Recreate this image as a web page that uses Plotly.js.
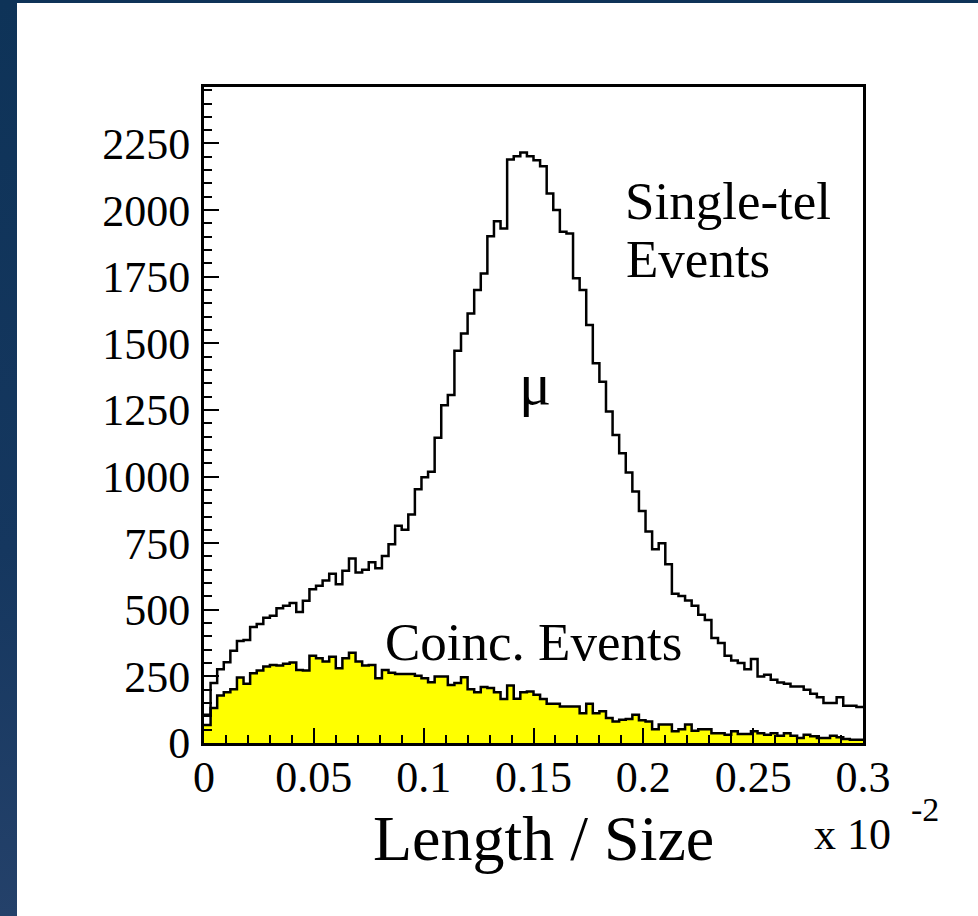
<!DOCTYPE html>
<html>
<head>
<meta charset="utf-8">
<script src="https://cdn.plot.ly/plotly-3.0.1.min.js"></script>
<style>
  html, body { margin: 0; padding: 0; width: 978px; height: 916px; overflow: hidden;
    background: linear-gradient(to bottom, #0e3358 0%, #15375f 60%, #24416a 100%); }
  #plot { position: absolute; left: 17px; top: 3px; width: 961px; height: 913px; background: #fff; }
</style>
</head>
<body>
<div id="plot"></div>
<script>
// Histogram binning (Length/Size in units of 1e-2)
const binLow = 0.0;
const binWidth = 0.003;
const nBins = 100;

// Single-telescope events (white histogram, black outline)
const singleTel = [
  106,225,277,303,346,383,387,435,447,470,
  478,506,515,525,492,534,577,590,610,635,
  596,646,692,640,650,678,656,702,746,815,
  800,858,952,997,1018,1146,1268,1306,1472,1537,
  1612,1700,1762,1902,1958,1931,2190,2202,2216,2202,
  2187,2165,2062,2000,1919,1912,1744,1700,1569,1425,
  1356,1244,1156,1087,1015,944,871,794,727,750,
  671,560,552,535,515,481,462,394,375,327,
  310,300,277,315,250,256,237,227,222,212,
  212,200,185,172,150,150,172,140,140,135
];

// Coincidence events (yellow filled histogram)
const coinc = [
  68,131,178,190,202,246,222,262,272,287,
  293,291,297,302,274,272,327,318,306,324,
  281,318,339,306,291,293,243,274,264,259,
  259,259,252,243,228,250,250,218,225,247,
  202,190,210,206,190,165,216,166,190,193,
  181,165,147,147,137,137,137,112,147,112,
  119,94,81,87,90,106,85,81,52,69,
  69,44,52,69,46,52,52,37,37,31,
  44,34,34,44,37,31,37,27,37,27,
  19,31,25,19,19,27,22,15,12,12
];

const xTickVals = [0, 0.05, 0.1, 0.15, 0.2, 0.25, 0.3];
const xTickText = ["0", "0.05", "0.1", "0.15", "0.2", "0.25", "0.3"];
const yTickVals = [0, 250, 500, 750, 1000, 1250, 1500, 1750, 2000, 2250];
const yTickText = ["0", "250", "500", "750", "1000", "1250", "1500", "1750", "2000", "2250"];

// step-histogram helper: bin edges plus repeated last value for 'hv' lines
function stepXY(vals) {
  const xs = [], ys = [];
  for (let i = 0; i < vals.length; i++) { xs.push(binLow + i * binWidth); ys.push(vals[i]); }
  xs.push(binLow + vals.length * binWidth); ys.push(vals[vals.length - 1]);
  return {xs, ys};
}

const s1 = stepXY(singleTel);
const s2 = stepXY(coinc);

const serif = "Liberation Serif, Times New Roman, serif";

const traces = [
  {x: s2.xs, y: s2.ys, type: 'scatter', mode: 'lines', line: {shape: 'hv', color: '#000', width: 2.5},
   fill: 'tozeroy', fillcolor: '#ffff00', hoverinfo: 'skip', showlegend: false},
  {x: s1.xs, y: s1.ys, type: 'scatter', mode: 'lines', line: {shape: 'hv', color: '#000', width: 2.5},
   hoverinfo: 'skip', showlegend: false}
];

const layout = {
  width: 961, height: 913,
  margin: {l: 187, r: 115, t: 84, b: 173, pad: 0},
  paper_bgcolor: '#ffffff', plot_bgcolor: '#ffffff',
  showlegend: false,
  font: {family: serif, color: '#000'},
  xaxis: {
    range: [0, 0.3], showgrid: false, zeroline: false,
    showline: true, linecolor: '#000', linewidth: 3, mirror: true,
    ticks: 'inside', ticklen: 15, tickwidth: 2, tickcolor: '#000',
    tickvals: xTickVals, ticktext: xTickText,
    tickfont: {family: serif, size: 44, color: '#000'},
    ticklabelstandoff: -7,
    minor: {dtick: 0.01, tick0: 0, ticks: 'inside', ticklen: 8, tickwidth: 2, tickcolor: '#000', showgrid: false}
  },
  yaxis: {
    range: [0, 2462], showgrid: false, zeroline: false,
    showline: true, linecolor: '#000', linewidth: 3, mirror: true,
    ticks: 'inside', ticklen: 15, tickwidth: 2, tickcolor: '#000',
    tickvals: yTickVals, ticktext: yTickText,
    tickfont: {family: serif, size: 44, color: '#000'},
    ticklabelstandoff: 2,
    minor: {dtick: 50, tick0: 0, ticks: 'inside', ticklen: 8, tickwidth: 2, tickcolor: '#000', showgrid: false}
  },
  annotations: [
    {text: 'Single-tel', xref: 'paper', yref: 'paper', x: 0.636, y: 0.826, xanchor: 'left', yanchor: 'middle',
     showarrow: false, font: {family: serif, size: 53, color: '#000'}},
    {text: 'Events', xref: 'paper', yref: 'paper', x: 0.637, y: 0.7376, xanchor: 'left', yanchor: 'middle',
     showarrow: false, font: {family: serif, size: 53, color: '#000'}},
    {text: 'μ', xref: 'paper', yref: 'paper', x: 0.5018, y: 0.5473, xanchor: 'center', yanchor: 'middle',
     showarrow: false, font: {family: serif, size: 60, color: '#000'}},
    {text: 'Coinc. Events', xref: 'paper', yref: 'paper', x: 0.2712, y: 0.1543, xanchor: 'left', yanchor: 'middle',
     showarrow: false, font: {family: serif, size: 53, color: '#000'}},
    {text: 'Length / Size', xref: 'paper', yref: 'paper', x: 0.5155, y: -0.146, xanchor: 'center', yanchor: 'middle',
     showarrow: false, font: {family: serif, size: 64, color: '#000'}},
    {text: 'x 10', xref: 'paper', yref: 'paper', x: 0.922, y: -0.139, xanchor: 'left', yanchor: 'middle',
     showarrow: false, font: {family: serif, size: 44, color: '#000'}},
    {text: '-2', xref: 'paper', yref: 'paper', x: 1.0695, y: -0.102, xanchor: 'left', yanchor: 'middle',
     showarrow: false, font: {family: serif, size: 34, color: '#000'}}
  ]
};

Plotly.newPlot('plot', traces, layout, {displayModeBar: false, staticPlot: true});
</script>
</body>
</html>
